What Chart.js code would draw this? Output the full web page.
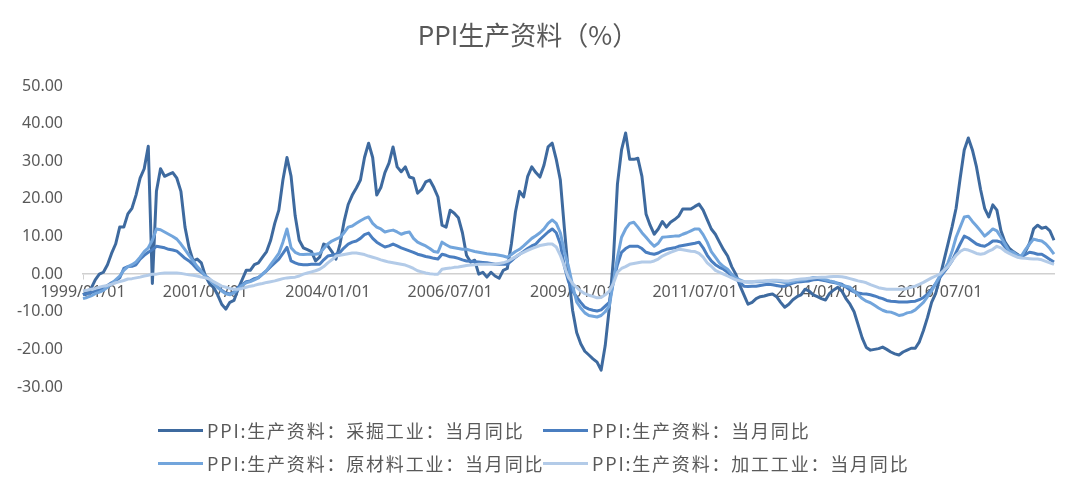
<!DOCTYPE html>
<html><head><meta charset="utf-8">
<script src="https://cdn.jsdelivr.net/npm/chart.js@4"></script>
<style>
html,body{margin:0;padding:0;background:#fff;}
#wrap{position:relative;width:1080px;height:490px;overflow:hidden;}
#c{position:absolute;left:0;top:0;}
#title{position:absolute;left:0;width:1056px;top:16px;text-align:center;font-family:"Noto Sans CJK SC";font-size:26px;color:#595959;line-height:36px;}
.leg{position:absolute;font-family:"Noto Sans CJK SC";font-size:18px;letter-spacing:1.8px;color:#595959;white-space:nowrap;display:flex;align-items:center;height:24px;line-height:24px;}
.leg i{display:inline-block;width:45px;height:3px;margin-right:4px;}
</style></head>
<body>
<div id="wrap">
<canvas id="c" width="1080" height="490"></canvas>
<div id="title">PPI生产资料（%）</div>
<div class="leg" style="left:158px;top:418px"><i style="background:#3e6a9f"></i>PPI:生产资料：采掘工业：当月同比</div>
<div class="leg" style="left:543px;top:418px"><i style="background:#4a7ec0"></i>PPI:生产资料：当月同比</div>
<div class="leg" style="left:158px;top:451px"><i style="background:#72a5dc"></i>PPI:生产资料：原材料工业：当月同比</div>
<div class="leg" style="left:543px;top:451px"><i style="background:#b3cbe8"></i>PPI:生产资料：加工工业：当月同比</div>
</div>
<script>
const seriesNames = ["PPI:生产资料：采掘工业：当月同比","PPI:生产资料：当月同比","PPI:生产资料：原材料工业：当月同比","PPI:生产资料：加工工业：当月同比"];
const startYear = 1999, monthCount = 239;
const yTicks = [-30,-20,-10,0,10,20,30,40,50];

const mining = [
-5.5,-4.8,-3.8,-1.5,0,0.5,2.5,5.5,8,12.5,12.5,16,
17.5,21,25.5,28,34,-2.5,22,28,26,26.5,27,25.5,
22,12.5,7,3.5,4,3,-0.5,-2.5,-3.5,-5.5,-8,-9.3,
-7.5,-7,-4,-1.5,1,1,2.5,3,4.5,6,9,13.5,
17,25,31,26,15.5,9,7,6.5,6,3.5,4.5,8,
7.5,6,4,8,14,18.5,21,22.9,25,31,34.8,31,
21,23,27,29.5,33.8,28.5,27.2,28.5,25.8,25.5,21.5,22.5,
24.5,25,23,20.5,13,12.5,17,16.2,15,11,5,3.2,
3.7,0,0.5,-0.8,0.5,-0.5,-1.1,1,1.5,8,16.5,22,
20.5,26,28.5,27,25.8,29,33.8,34.8,30.5,25,12,0,
-9.6,-15.5,-18.5,-20.5,-21.5,-22.5,-23.4,-25.5,-19,-9,4,24,
33,37.5,30.5,30.5,30.8,26,16,13,10.6,12,14,12.5,
13.8,14.5,15.4,17.3,17.3,17.3,18,18.6,17,14.5,12,10.6,
8.5,6.5,4.8,2,0,-3,-5.5,-8,-7.5,-6.5,-6,-5.8,
-5.5,-5.3,-6,-7.5,-8.8,-8,-6.8,-6,-5.5,-4,-4.5,-5.5,
-6,-6.5,-6.9,-5.1,-4.2,-3.5,-4.5,-6.5,-8,-10,-13.5,-17,
-19.5,-20.2,-20,-19.8,-19.4,-20,-20.7,-21.2,-21.5,-20.7,-20.2,-19.7,
-19.7,-18,-15,-11.5,-7.5,-5.1,-1,3.5,8,12.5,17.5,25.5,
33,36.2,33,28.5,22.5,17.5,15.2,18.4,17,11.5,8.5,6.9,
6,5.3,4.5,6,8.2,12,13,12.2,12.5,11.5,9
];

const producerGoods = [
-5.5,-5.2,-4.9,-4.5,-4.2,-3.8,-3,-2.3,-1.8,-1,1.5,2,
2.1,2.5,4,5,5.8,6.5,7.4,7.2,7,6.6,6.4,6.1,
5.2,4.2,3.5,2.5,1.3,0.5,-0.5,-1.3,-2.3,-3.5,-4.3,-5,
-5.3,-4.8,-3.5,-2.8,-2,-1.8,-1.2,-0.9,0,0.9,2,3,
4,5.5,7.1,3.5,3,2.6,2.5,2.5,2.6,2.6,2.6,3.8,
4.8,5,5.3,5.8,7,8,8.5,8.8,9.5,10.5,10.9,9.5,
8.5,7.8,7.2,7.5,8,7.5,7,6.6,6.2,5.8,5.3,5,
4.7,4.5,4.2,4,5.3,5,4.6,4.5,4.2,3.8,3.5,3.4,
3.3,3.2,3.1,3,2.8,2.6,2.6,2.6,2.6,3.5,4.5,5.3,
6,6.8,7.5,8,9.2,10.2,11.2,12,11,8,2,-2,
-4.5,-6.1,-7.5,-8.8,-9.3,-9.6,-9.8,-9.5,-8.5,-7.5,-2,2.5,
5.8,6.8,7.4,7.4,7.4,6.8,5.8,5.5,5.3,5.6,6.2,6.6,
6.8,7,7.4,7.6,7.8,8,8.2,8.5,7,5,3.5,2.5,
1.8,1.3,0.5,-0.5,-1.2,-2.2,-3.2,-3.3,-3.2,-3.2,-3,-2.8,
-2.7,-2.8,-3,-3.2,-3.2,-2.8,-2.4,-2.1,-2,-1.9,-1.8,-1.5,
-1.4,-1.6,-1.8,-2,-2.2,-2.4,-2.7,-3.4,-4.2,-4.7,-5,-5.2,
-5.3,-5.5,-5.8,-6.2,-6.5,-7,-7.2,-7.3,-7.4,-7.4,-7.4,-7.3,
-7.2,-6.8,-6.2,-5.3,-4,-2.5,-0.9,0.5,1.9,3.5,5.8,8,
10.1,9.6,8.8,8,7.6,7.4,8,8.8,8.8,8.5,7.2,6.1,
5.5,4.8,4.6,5.2,5.8,5.6,5.3,5.3,4.6,3.9,3.2
];

const rawMaterials = [
-6.5,-6.2,-5.8,-5.2,-4.8,-4.3,-3.5,-2.5,-1.5,-0.5,1,2,
2.5,3.2,4.5,6,7,9,12,11.8,11.2,10.6,10,9.3,
8,6.5,5,3.5,2,0.8,-0.5,-1.5,-2.5,-3.5,-4.5,-5.2,
-5.5,-5,-4,-3,-2.3,-2,-1.5,-1,0,1,2.5,4,
5.5,8.5,12,7,5.8,5.3,5.2,5.3,5.3,5.3,5.5,6.8,
8,8.8,9.3,9.8,11,12.5,12.8,13.5,14.2,14.8,15.2,13.5,
12.5,12,11.2,11.5,11.7,11.2,10.6,11,11.2,9.5,8.5,8,
7.5,6.8,6,5.8,8.5,7.8,7.2,7,6.8,6.6,6.6,6.3,
6,5.8,5.6,5.4,5.3,5.2,5,4.8,4.5,5.2,6,6.6,
7.5,8.5,9.5,10.2,11,12,13.5,14.4,13.5,11,6,2,
-3,-7.4,-9,-10.3,-11,-11.2,-11.4,-11,-10,-8.5,-2,4.5,
9.8,12,13.5,13.8,12.5,11,9.8,8.5,7.4,8.2,9.8,9.9,
10,10.1,10.1,10.6,11,11.5,12,12,10.5,8.5,6,4.5,
3,2,1.3,0,-1,-1.5,-2,-2.1,-2.1,-2,-2,-1.9,
-1.8,-1.8,-1.9,-2,-2.2,-2.3,-2,-1.8,-1.6,-1.5,-1.2,-0.9,
-0.9,-1.2,-1.5,-1.8,-2,-2.5,-3,-3.2,-3.5,-4.5,-5.5,-6.5,
-7.2,-7.6,-8.3,-9,-9.6,-10,-10.1,-10.5,-11,-10.8,-10.3,-10.1,
-9.5,-8.5,-7.5,-6,-4.5,-2.5,-0.5,0.9,3,6,9.8,12.5,
15.2,15.4,14,12.8,11.5,10.1,11,12,11.5,9.8,8,6.1,
5.8,5,4.8,6.5,8,9.3,9,8.8,8,6.8,5.3
];

const processing = [
-4.5,-4.3,-4,-3.8,-3.5,-3.2,-3,-2.7,-2.3,-2,-1.7,-1.3,
-1.2,-1,-0.8,-0.5,-0.3,0,0,0.2,0.3,0.3,0.3,0.3,
0.2,0,-0.2,-0.3,-0.5,-0.8,-1,-1.3,-2,-2.6,-3.2,-3.5,
-3.8,-4,-4,-3.8,-3.5,-3.2,-3,-2.7,-2.5,-2.2,-2,-1.8,
-1.5,-1.2,-1,-0.9,-0.8,-0.5,0,0.3,0.6,0.9,1.3,2,
3,3.8,4.8,5,5.2,5.4,5.6,5.6,5.4,5.2,4.8,4.5,
4.2,3.8,3.5,3.2,3,2.8,2.6,2.4,2,1.5,0.9,0.6,
0.3,0.1,0,0,1.3,1.5,1.6,1.8,1.9,2.1,2.3,2.4,
2.5,2.6,2.6,2.6,2.6,2.6,2.8,3,3.4,4,4.6,5.3,
5.8,6.3,6.8,7.2,7.6,7.8,8,8,7.2,5,2,-0.9,
-2.5,-3.5,-4.5,-5.2,-5.6,-5.9,-6.3,-6.2,-5.5,-4.5,-2.5,0.5,
1.5,2,2.6,2.8,3,3.2,3.2,3.2,3.5,4,4.8,5.3,
5.8,6.2,6.6,6.5,6.3,6.1,6,5.5,4.5,3,2.1,1,
0.5,0,-0.5,-1,-1.5,-1.8,-2,-2.1,-2,-1.9,-1.8,-1.8,
-1.7,-1.6,-1.6,-1.7,-1.8,-1.8,-1.6,-1.4,-1.3,-1.2,-1.1,-1,
-0.9,-0.8,-0.8,-0.7,-0.6,-0.6,-0.7,-0.9,-1.2,-1.5,-1.8,-2,
-2.3,-2.8,-3.2,-3.6,-3.8,-4,-4,-4,-4,-4,-3.8,-3.5,
-3.2,-2.7,-2.2,-1.6,-1,-0.5,0,1,2,3.5,5,6,
6.6,6.4,6,5.5,5.3,5.5,6.1,6.6,7.4,7,6.1,5.5,
5,4.5,4.3,4.2,4.1,4,4,3.8,3.4,3,2.6
];

const categories = [];
for (let i = 0; i < monthCount; i++) {
  const y = startYear + Math.floor(i / 12), m = (i % 12) + 1;
  categories.push(y + "/" + String(m).padStart(2, "0") + "/01");
}

const colors = ["#3e6a9f", "#4a7ec0", "#72a5dc", "#b3cbe8"];
const seriesData = [mining, producerGoods, rawMaterials, processing];

new Chart(document.getElementById("c"), {
  type: "line",
  data: {
    labels: categories,
    datasets: seriesData.map((d, i) => ({
      label: seriesNames[i],
      data: d,
      borderColor: colors[i],
      backgroundColor: colors[i],
      borderWidth: 3,
      pointRadius: 0,
      tension: 0,
      borderJoinStyle: "round",
      order: 3 - i
    }))
  },
  options: {
    responsive: false,
    animation: false,
    events: [],
    layout: { padding: { left: 0, right: 26, top: 86, bottom: 103 } },
    plugins: { legend: { display: false }, title: { display: false }, tooltip: { enabled: false } },
    scales: {
      x: {
        type: "category",
        position: { y: 0 },
        offset: false,
        border: { display: true, color: "#d0d0d0", width: 1.5 },
        grid: {
          drawOnChartArea: false,
          drawTicks: true,
          tickLength: 5,
          color: (ctx) => (ctx.index % 30 === 0 ? "#d0d0d0" : "rgba(0,0,0,0)")
        },
        ticks: {
          autoSkip: false,
          maxRotation: 0,
          minRotation: 0,
          padding: 4,
          color: "#595959",
          font: { family: "Noto Sans", size: 16 },
          callback: function (v, i) { return i % 30 === 0 ? categories[i] : null; }
        }
      },
      y: {
        min: -30,
        max: 50,
        afterFit: (s) => { s.width = 83; },
        afterBuildTicks: (s) => { s.ticks = yTicks.map((v) => ({ value: v })); },
        border: { display: false },
        grid: { display: false, drawTicks: false },
        ticks: {
          padding: 20,
          color: "#595959",
          font: { family: "Noto Sans", size: 16 },
          callback: (v) => Number(v).toFixed(2)
        }
      }
    }
  }
});
</script>
</body></html>
